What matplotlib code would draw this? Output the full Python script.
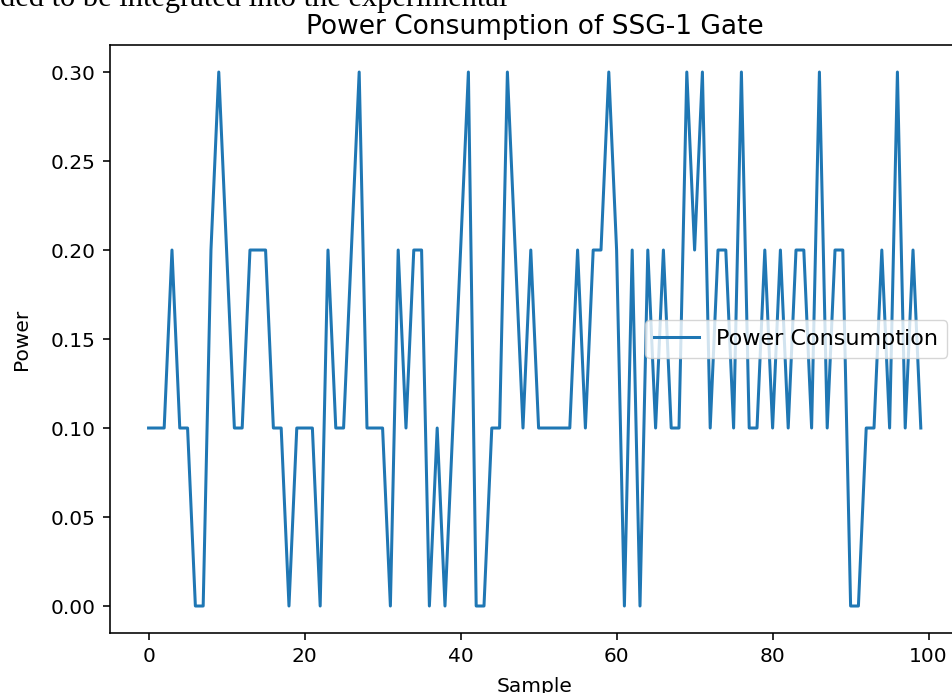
import matplotlib
matplotlib.use("Agg")
import matplotlib.pyplot as plt

# power per sample
samples = list(range(100))
power = [
    0.1, 0.1, 0.1, 0.2, 0.1, 0.1, 0.0, 0.0, 0.2, 0.3,
    0.2, 0.1, 0.1, 0.2, 0.2, 0.2, 0.1, 0.1, 0.0, 0.1,
    0.1, 0.1, 0.0, 0.2, 0.1, 0.1, 0.2, 0.3, 0.1, 0.1,
    0.1, 0.0, 0.2, 0.1, 0.2, 0.2, 0.0, 0.1, 0.0, 0.1,
    0.2, 0.3, 0.0, 0.0, 0.1, 0.1, 0.3, 0.2, 0.1, 0.2,
    0.1, 0.1, 0.1, 0.1, 0.1, 0.2, 0.1, 0.2, 0.2, 0.3,
    0.2, 0.0, 0.2, 0.0, 0.2, 0.1, 0.2, 0.1, 0.1, 0.3,
    0.2, 0.3, 0.1, 0.2, 0.2, 0.1, 0.3, 0.1, 0.1, 0.2,
    0.1, 0.2, 0.1, 0.2, 0.2, 0.1, 0.3, 0.1, 0.2, 0.2,
    0.0, 0.0, 0.1, 0.1, 0.2, 0.1, 0.3, 0.1, 0.2, 0.1,
]

# the reference is an upscaled default figure, so scale sizes by ~1.45
s = 1.45
plt.rcParams.update({
    "font.size": 10 * s,
    "axes.linewidth": 0.8 * s,
    "xtick.major.size": 3.5 * s,
    "ytick.major.size": 3.5 * s,
    "xtick.major.width": 0.8 * s,
    "ytick.major.width": 0.8 * s,
    "xtick.major.pad": 3.5 * s,
    "ytick.major.pad": 3.5 * s,
})

fig = plt.figure(figsize=(9.52, 6.93), dpi=100)
# axes runs a little past the right edge of the cropped screenshot
ax = fig.add_axes([0.1155, 0.087, 0.8923, 0.8476])

ax.plot(samples, power, color="#1f77b4", linewidth=1.5 * s, label="Power Consumption")
ax.set_title("Power Consumption of SSG-1 Gate", fontsize=19, pad=8)
ax.set_xlabel("Sample", labelpad=8)
ax.set_ylabel("Power", labelpad=14)
ax.legend(loc="center right", fontsize=16, borderaxespad=0.55)

# bit of the document text above the chart, cut off by the crop
fig.text(0.0, 1 - 6 / 693, "ded to be integrated into the experimental",
         family="Liberation Serif", fontsize=22, va="baseline", ha="left")

fig.savefig("out.png", dpi=100)
plt.close(fig)
